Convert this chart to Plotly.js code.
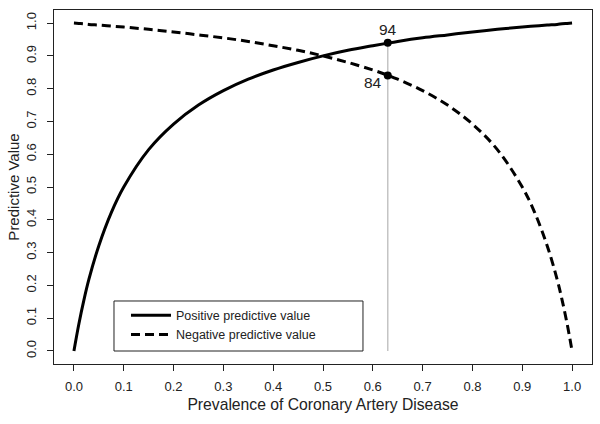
<!DOCTYPE html>
<html>
<head>
<meta charset="utf-8">
<script src="https://cdn.plot.ly/plotly-3.0.1.min.js"></script>
<style>html,body{margin:0;padding:0;background:#fff;}#chart{width:600px;height:424px;}</style>
</head>
<body>
<div id="chart"></div>
<script>
// Prevalence values (x) and read-off predictive values
const prevalence = [0, 0.01, 0.02, 0.03, 0.05, 0.075, 0.1, 0.15, 0.2, 0.25, 0.3, 0.35, 0.4, 0.45, 0.5, 0.55, 0.6, 0.63, 0.65, 0.7, 0.75, 0.8, 0.85, 0.9, 0.925, 0.95, 0.97, 0.98, 0.99, 1.0];
const ppv = [0, 0.083, 0.155, 0.218, 0.321, 0.422, 0.5, 0.614, 0.692, 0.75, 0.794, 0.829, 0.857, 0.88, 0.9, 0.917, 0.931, 0.939, 0.944, 0.955, 0.964, 0.973, 0.981, 0.988, 0.991, 0.994, 0.996, 0.998, 0.999, 1.0];
const npv = [1.0, 0.999, 0.998, 0.996, 0.994, 0.991, 0.988, 0.981, 0.973, 0.964, 0.955, 0.944, 0.931, 0.917, 0.9, 0.88, 0.857, 0.841, 0.829, 0.794, 0.75, 0.692, 0.614, 0.5, 0.422, 0.321, 0.218, 0.155, 0.083, 0];
const markX = [0.63, 0.63];
const markY = [0.94, 0.84];
const markLabels = ["94", "84"];
const seriesNames = ["Positive predictive value", "Negative predictive value"];
const xTicks = [0, 0.1, 0.2, 0.3, 0.4, 0.5, 0.6, 0.7, 0.8, 0.9, 1.0];
const yTicks = [0, 0.1, 0.2, 0.3, 0.4, 0.5, 0.6, 0.7, 0.8, 0.9, 1.0];

const font = "Liberation Sans, Arial, sans-serif";

const traces = [
  {x: [markX[0], markX[0]], y: [0, markY[0]], mode: 'lines', line: {color: '#c4c4c4', width: 1.5}, showlegend: false, hoverinfo: 'skip'},
  {x: prevalence, y: ppv, mode: 'lines', name: seriesNames[0], line: {color: '#000', width: 3, shape: 'spline'}},
  {x: prevalence, y: npv, mode: 'lines', name: seriesNames[1], line: {color: '#000', width: 3, dash: '9px,5px', shape: 'spline'}},
  {x: markX, y: markY, mode: 'markers', marker: {color: '#000', size: 8}, showlegend: false}
];

const layout = {
  width: 600, height: 424,
  margin: {l: 54, r: 8, t: 10, b: 60},
  paper_bgcolor: '#fff', plot_bgcolor: '#fff',
  font: {family: font, color: '#222', size: 13},
  showlegend: true,
  legend: {x: 0.1115, y: 0.110, xanchor: 'left', yanchor: 'middle', borderwidth: 0, bgcolor: 'rgba(0,0,0,0)',
           font: {size: 12.5, family: font, color: '#222'}, tracegroupgap: 0, itemwidth: 40, indentation: 12},
  shapes: [
    {type: 'rect', xref: 'paper', yref: 'paper', x0: 0.1115, x1: 0.5743, y0: 0.0367, y1: 0.178, layer: 'below',
     line: {color: '#222', width: 1}, fillcolor: '#fff'}
  ],
  xaxis: {
    range: [-0.04, 1.04], tickvals: xTicks, tickformat: '.1f', ticks: 'outside', ticklen: 6, tickwidth: 1, tickcolor: '#222',
    showline: true, linecolor: '#222', linewidth: 1, mirror: true, showgrid: false, zeroline: false,
    tickfont: {size: 13, family: font, color: '#222'}, ticklabelstandoff: 4,
    title: {text: 'Prevalence of Coronary Artery Disease', font: {size: 15.7, family: font, color: '#222'}, standoff: 6}
  },
  yaxis: {
    range: [-0.04, 1.04], tickvals: yTicks, tickformat: '.1f', ticks: 'outside', ticklen: 6, tickwidth: 1, tickcolor: '#222',
    showline: true, linecolor: '#222', linewidth: 1, mirror: true, showgrid: false, zeroline: false, tickangle: -90,
    tickfont: {size: 13, family: font, color: '#222'}, ticklabelstandoff: 6,
    title: {text: 'Predictive Value', font: {size: 15, family: font, color: '#222'}, standoff: 0}
  },
  annotations: [
    {x: markX[0], y: markY[0], text: markLabels[0], showarrow: false, xanchor: 'center', yanchor: 'bottom', yshift: 3, font: {size: 15.5, family: font, color: '#222'}},
    {x: markX[1], y: markY[1], text: markLabels[1], showarrow: false, xanchor: 'right', yanchor: 'top', xshift: -4, yshift: 4, font: {size: 15.5, family: font, color: '#222'}}
  ]
};

Plotly.newPlot('chart', traces, layout, {staticPlot: true, displayModeBar: false});
</script>
</body>
</html>
